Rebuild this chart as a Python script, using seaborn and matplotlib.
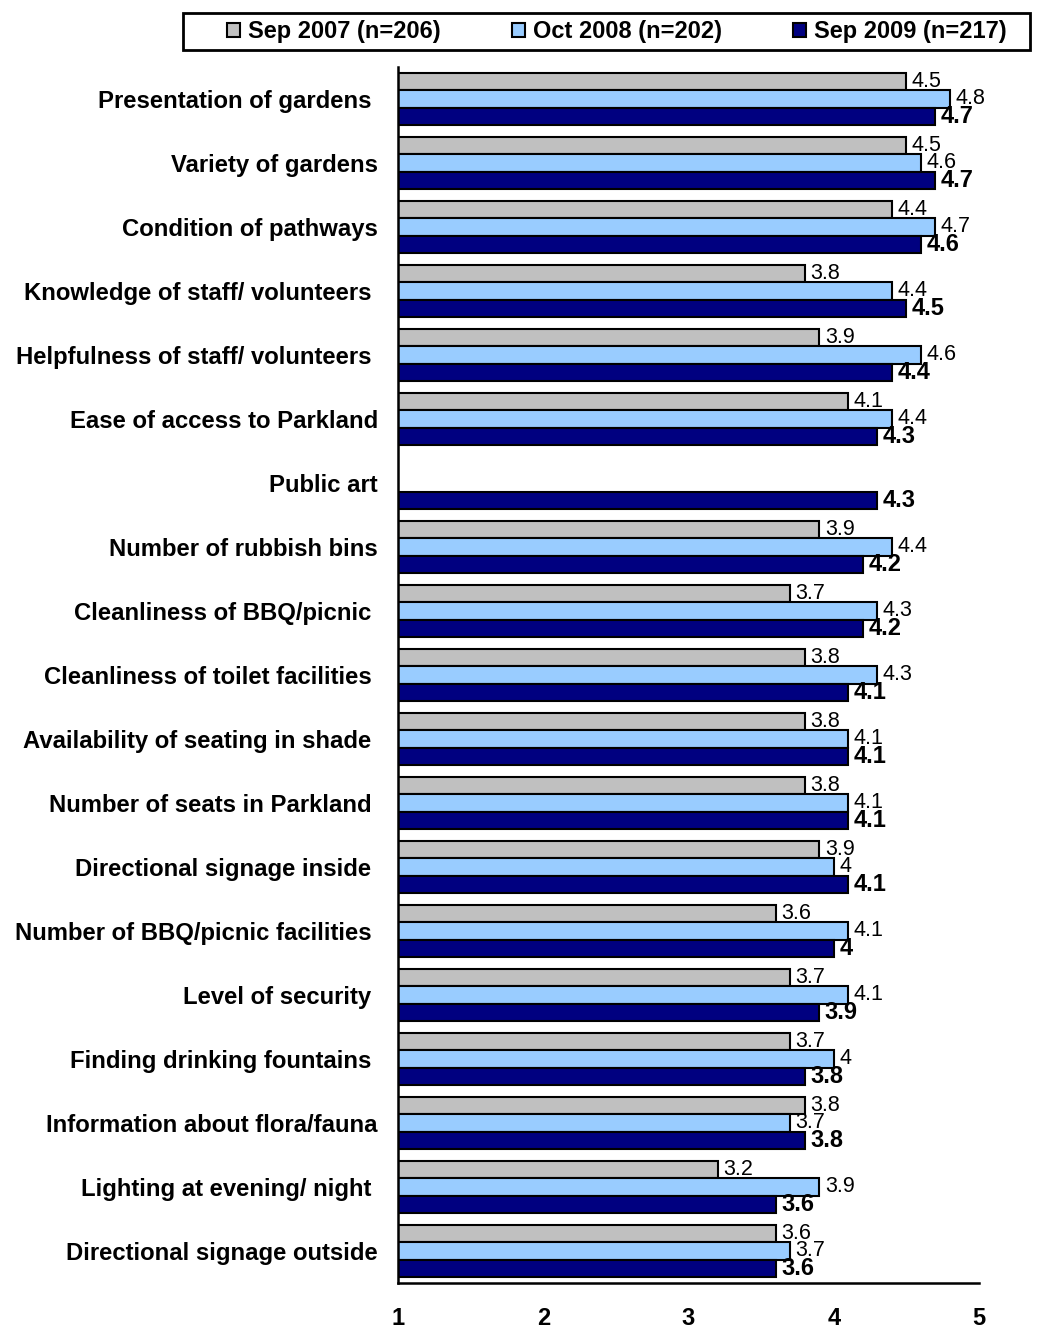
import numpy as np
import pandas as pd
import matplotlib
matplotlib.use("Agg")
import matplotlib.pyplot as plt
from matplotlib.patches import Patch, Rectangle
import seaborn as sns

# Survey attributes (trailing spaces kept as in the source labels)
attributes = [
    "Presentation of gardens ",
    "Variety of gardens",
    "Condition of pathways",
    "Knowledge of staff/ volunteers ",
    "Helpfulness of staff/ volunteers ",
    "Ease of access to Parkland",
    "Public art",
    "Number of rubbish bins",
    "Cleanliness of BBQ/picnic ",
    "Cleanliness of toilet facilities ",
    "Availability of seating in shade ",
    "Number of seats in Parkland ",
    "Directional signage inside ",
    "Number of BBQ/picnic facilities ",
    "Level of security ",
    "Finding drinking fountains ",
    "Information about flora/fauna",
    "Lighting at evening/ night ",
    "Directional signage outside",
]

sep_2007 = [4.5, 4.5, 4.4, 3.8, 3.9, 4.1, np.nan, 3.9, 3.7, 3.8,
            3.8, 3.8, 3.9, 3.6, 3.7, 3.7, 3.8, 3.2, 3.6]
oct_2008 = [4.8, 4.6, 4.7, 4.4, 4.6, 4.4, np.nan, 4.4, 4.3, 4.3,
            4.1, 4.1, 4.0, 4.1, 4.1, 4.0, 3.7, 3.9, 3.7]
sep_2009 = [4.7, 4.7, 4.6, 4.5, 4.4, 4.3, 4.3, 4.2, 4.2, 4.1,
            4.1, 4.1, 4.1, 4.0, 3.9, 3.8, 3.8, 3.6, 3.6]

surveys = ["Sep 2007 (n=206)", "Oct 2008 (n=202)", "Sep 2009 (n=217)"]
colors = ["#C0C0C0", "#99CCFF", "#000080"]
x_ticks = [1, 2, 3, 4, 5]

df = pd.DataFrame({
    "attribute": attributes * 3,
    "survey": np.repeat(surveys, len(attributes)),
    "score": sep_2007 + oct_2008 + sep_2009,
})

sns.set_theme(style="white")
plt.rcParams["font.family"] = ["Liberation Sans", "DejaVu Sans"]
plt.rcParams.update({
    "text.color": "black",
    "axes.labelcolor": "black",
    "xtick.color": "black",
    "ytick.color": "black",
    "axes.edgecolor": "black",
})

fig = plt.figure(figsize=(10.4, 13.29), dpi=100)
ax = fig.add_axes([398 / 1040, 1 - 1283 / 1329, (979 - 398) / 1040, (1283 - 67) / 1329])

palette = dict(zip(surveys, colors))
sns.barplot(data=df, x="score", y="attribute", hue="survey", hue_order=surveys,
            order=attributes, palette=palette, orient="h", errorbar=None,
            width=0.8, saturation=1, edgecolor="black", linewidth=1.5, ax=ax)
if ax.legend_ is not None:
    ax.legend_.remove()

ax.set_xlim(1, 5)
ax.set_xticks(x_ticks)
ax.set_xticklabels([str(t) for t in x_ticks], fontsize=17, fontweight="bold", color="black")
ax.set_yticklabels(attributes, fontsize=17.2, fontweight="bold", color="black")
ax.set_xlabel("")
ax.set_ylabel("")
ax.tick_params(axis="y", length=0, pad=14.4)
ax.tick_params(axis="x", length=6, width=1.5, direction="out", pad=11, colors="black")
for side in ["top", "right"]:
    ax.spines[side].set_visible(False)
for side in ["left", "bottom"]:
    ax.spines[side].set_color("black")
    ax.spines[side].set_linewidth(1.8)
ax.grid(False)

# Value labels at the end of each bar
for i, container in enumerate(ax.containers):
    widths = [p.get_width() for p in container]
    labels = [f"{round(w, 1):g}" if np.isfinite(w) and w > 0 else "" for w in widths]
    if i == 2:
        ax.bar_label(container, labels=labels, padding=4, fontsize=17,
                     fontweight="bold", color="black")
    else:
        ax.bar_label(container, labels=labels, padding=4, fontsize=15.5,
                     color="black")

# Legend across the top with a rectangular frame
handles = [Patch(facecolor=c, edgecolor="black", linewidth=1.5) for c in colors]
fig.legend(handles, surveys, loc="center", bbox_to_anchor=(617 / 1040, 1 - 31.5 / 1329),
           ncol=3, frameon=False, borderpad=0, handlelength=0.55, handleheight=0.55,
           handletextpad=0.35, columnspacing=3.0,
           prop={"size": 17, "weight": "bold"}, labelcolor="black")
fig.add_artist(Rectangle((183 / 1040, 1 - 50 / 1329), 847 / 1040, 37 / 1329,
                         transform=fig.transFigure, fill=False, lw=2, ec="black"))

fig.savefig("out.png", dpi=100)
